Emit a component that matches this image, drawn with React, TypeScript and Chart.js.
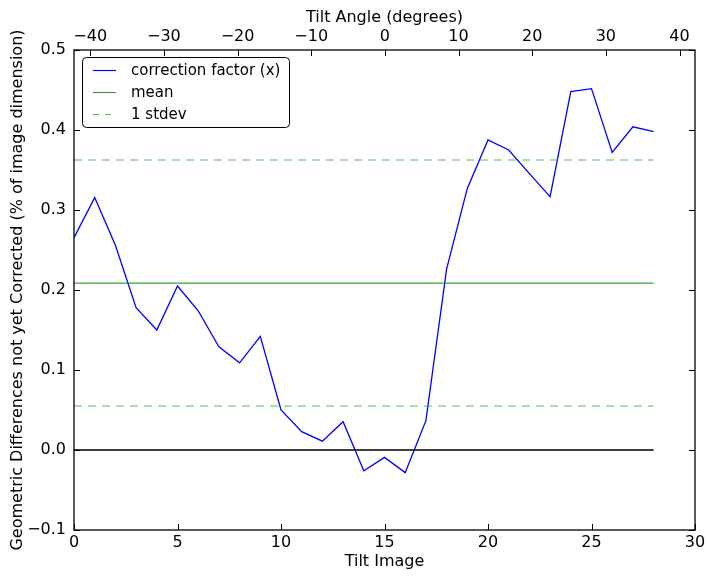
import React, { useEffect, useRef } from "react";
import { Chart, registerables } from "chart.js";

Chart.register(...registerables);

const tiltImages = Array.from({ length: 29 }, (_, i) => i);
const correctionValues = [
  0.2655, 0.3155, 0.256, 0.178, 0.15, 0.205, 0.174, 0.129, 0.109, 0.142,
  0.05, 0.0229, 0.011, 0.0354, -0.026, -0.0092, -0.0283, 0.0367, 0.226, 0.327,
  0.3875, 0.375, 0.3455, 0.3167, 0.448, 0.4517, 0.372, 0.404, 0.398,
];
const meanValue = 0.2085;
const stdevUpper = 0.3625;
const stdevLower = 0.055;
const xTicks = [0, 5, 10, 15, 20, 25, 30];
const yTicks = [-0.1, 0.0, 0.1, 0.2, 0.3, 0.4, 0.5];
const angleTicks = [-40, -30, -20, -10, 0, 10, 20, 30, 40];
const angleMin = -42.2;
const angleMax = 42.1;
const legendLabels = ["correction factor (x)", "mean", "1 stdev"];

const FONT = "'DejaVu Sans', sans-serif";
const BLUE = "#0000ff";
const MEAN_GREEN = "rgba(0,128,0,0.75)";
const STDEV_GREEN = "rgba(20,175,20,0.75)";

const fmtMinus = (s: string) => s.replace("-", "\u2212");

const framePlugin = {
  id: "frame",
  afterDraw(chart: any) {
    const { ctx, chartArea, scales } = chart;
    const { left, right, top, bottom } = chartArea;
    ctx.save();
    ctx.strokeStyle = "#000";
    ctx.lineWidth = 1;
    const tl = 6;
    ctx.beginPath();
    for (const v of yTicks) {
      const y = Math.round(scales.y.getPixelForValue(v)) + 0.5;
      ctx.moveTo(left, y);
      ctx.lineTo(left + tl, y);
      ctx.moveTo(right, y);
      ctx.lineTo(right - tl, y);
    }
    for (const v of xTicks) {
      const x = Math.round(scales.x.getPixelForValue(v)) + 0.5;
      ctx.moveTo(x, bottom);
      ctx.lineTo(x, bottom - tl);
    }
    for (const v of angleTicks) {
      const x = Math.round(scales.x2.getPixelForValue(v)) + 0.5;
      ctx.moveTo(x, top);
      ctx.lineTo(x, top + tl);
    }
    ctx.stroke();
    ctx.lineWidth = 1.3;
    ctx.strokeRect(left, top, right - left, bottom - top);

    // legend
    const lx = 82.5, ly = 57.5, lw = 207, lh = 70, r = 4;
    ctx.beginPath();
    ctx.moveTo(lx + r, ly);
    ctx.lineTo(lx + lw - r, ly);
    ctx.quadraticCurveTo(lx + lw, ly, lx + lw, ly + r);
    ctx.lineTo(lx + lw, ly + lh - r);
    ctx.quadraticCurveTo(lx + lw, ly + lh, lx + lw - r, ly + lh);
    ctx.lineTo(lx + r, ly + lh);
    ctx.quadraticCurveTo(lx, ly + lh, lx, ly + lh - r);
    ctx.lineTo(lx, ly + r);
    ctx.quadraticCurveTo(lx, ly, lx + r, ly);
    ctx.closePath();
    ctx.fillStyle = "#fff";
    ctx.fill();
    ctx.lineWidth = 1;
    ctx.strokeStyle = "#000";
    ctx.stroke();
    const styles = [
      { c: BLUE, d: [] as number[] },
      { c: MEAN_GREEN, d: [] as number[] },
      { c: STDEV_GREEN, d: [6, 6] },
    ];
    const rows = [70.5, 92.5, 114.5];
    ctx.font = `15px ${FONT}`;
    ctx.textBaseline = "middle";
    ctx.textAlign = "left";
    legendLabels.forEach((lab, i) => {
      ctx.beginPath();
      ctx.setLineDash(styles[i].d);
      ctx.strokeStyle = styles[i].c;
      ctx.lineWidth = 1.2;
      ctx.moveTo(93, rows[i]);
      ctx.lineTo(116, rows[i]);
      ctx.stroke();
      ctx.setLineDash([]);
      ctx.fillStyle = "#000";
      ctx.fillText(lab, 131, rows[i] + 1);
    });
    ctx.restore();
  },
};

export default function App() {
  const ref = useRef<HTMLCanvasElement>(null);
  useEffect(() => {
    document.body.style.margin = "0";
    const canvas = ref.current!;
    const chart = new Chart(canvas, {
      type: "line",
      data: {
        datasets: [
          {
            label: "zero",
            data: [{ x: 0, y: 0 }, { x: 28, y: 0 }],
            borderColor: "#000",
            borderWidth: 1.3,
            pointRadius: 0,
          },
          {
            label: legendLabels[2],
            data: [{ x: 0, y: stdevUpper }, { x: 28, y: stdevUpper }],
            borderColor: STDEV_GREEN,
            borderWidth: 1.2,
            borderDash: [8, 6],
            pointRadius: 0,
          },
          {
            label: legendLabels[2] + " low",
            data: [{ x: 0, y: stdevLower }, { x: 28, y: stdevLower }],
            borderColor: STDEV_GREEN,
            borderWidth: 1.2,
            borderDash: [8, 6],
            pointRadius: 0,
          },
          {
            label: legendLabels[1],
            data: [{ x: 0, y: meanValue }, { x: 28, y: meanValue }],
            borderColor: MEAN_GREEN,
            borderWidth: 1.2,
            pointRadius: 0,
          },
          {
            label: legendLabels[0],
            data: tiltImages.map((x, i) => ({ x, y: correctionValues[i] })),
            borderColor: BLUE,
            borderWidth: 1.3,
            pointRadius: 0,
            tension: 0,
          },
        ],
      },
      options: {
        responsive: false,
        animation: false,
        events: [],
        layout: { padding: { left: 0, right: 19, top: 0, bottom: 0 } },
        plugins: { legend: { display: false }, tooltip: { enabled: false } },
        scales: {
          x: {
            type: "linear",
            position: "bottom",
            min: 0,
            max: 30,
            grid: { display: false, drawTicks: false },
            border: { display: false },
            ticks: {
              stepSize: 5,
              padding: 3,
              color: "#000",
              font: { family: FONT, size: 16 },
              maxRotation: 0,
              autoSkip: false,
              includeBounds: false,
              callback: (v: any) => String(v),
            },
            title: {
              display: true,
              text: "Tilt Image",
              color: "#000",
              font: { family: FONT, size: 16 },
              padding: { top: 0, bottom: 8 },
            },
            afterFit: (s: any) => {
              s.height = 49;
            },
          },
          x2: {
            type: "linear",
            position: "top",
            min: angleMin,
            max: angleMax,
            grid: { display: false, drawTicks: false },
            border: { display: false },
            ticks: {
              stepSize: 10,
              padding: 4,
              color: "#000",
              font: { family: FONT, size: 16 },
              maxRotation: 0,
              autoSkip: false,
              includeBounds: false,
              callback: (v: any) => fmtMinus(String(v)),
            },
            title: {
              display: true,
              text: "Tilt Angle (degrees)",
              color: "#000",
              font: { family: FONT, size: 16 },
              padding: { top: 8, bottom: 0 },
            },
            afterFit: (s: any) => {
              s.height = 50;
            },
          },
          y: {
            type: "linear",
            position: "left",
            min: -0.1,
            max: 0.5,
            grid: { display: false, drawTicks: false },
            border: { display: false },
            ticks: {
              stepSize: 0.1,
              padding: 8,
              color: "#000",
              font: { family: FONT, size: 16 },
              autoSkip: false,
              includeBounds: false,
              callback: (v: any) => {
                const n = Math.round(Number(v) * 10) / 10;
                return fmtMinus((n === 0 ? 0 : n).toFixed(1));
              },
            },
            title: {
              display: true,
              text: "Geometric Differences not yet Corrected (% of image dimension)",
              color: "#000",
              font: { family: FONT, size: 16 },
              padding: { top: 8, bottom: 0 },
            },
            afterFit: (s: any) => {
              s.width = 74;
            },
          },
        },
      },
      plugins: [framePlugin],
    } as any);
    return () => chart.destroy();
  }, []);
  return (
    <canvas
      ref={ref}
      width={714}
      height={579}
      style={{ display: "block", position: "fixed", left: 0, top: 0 }}
    />
  );
}
